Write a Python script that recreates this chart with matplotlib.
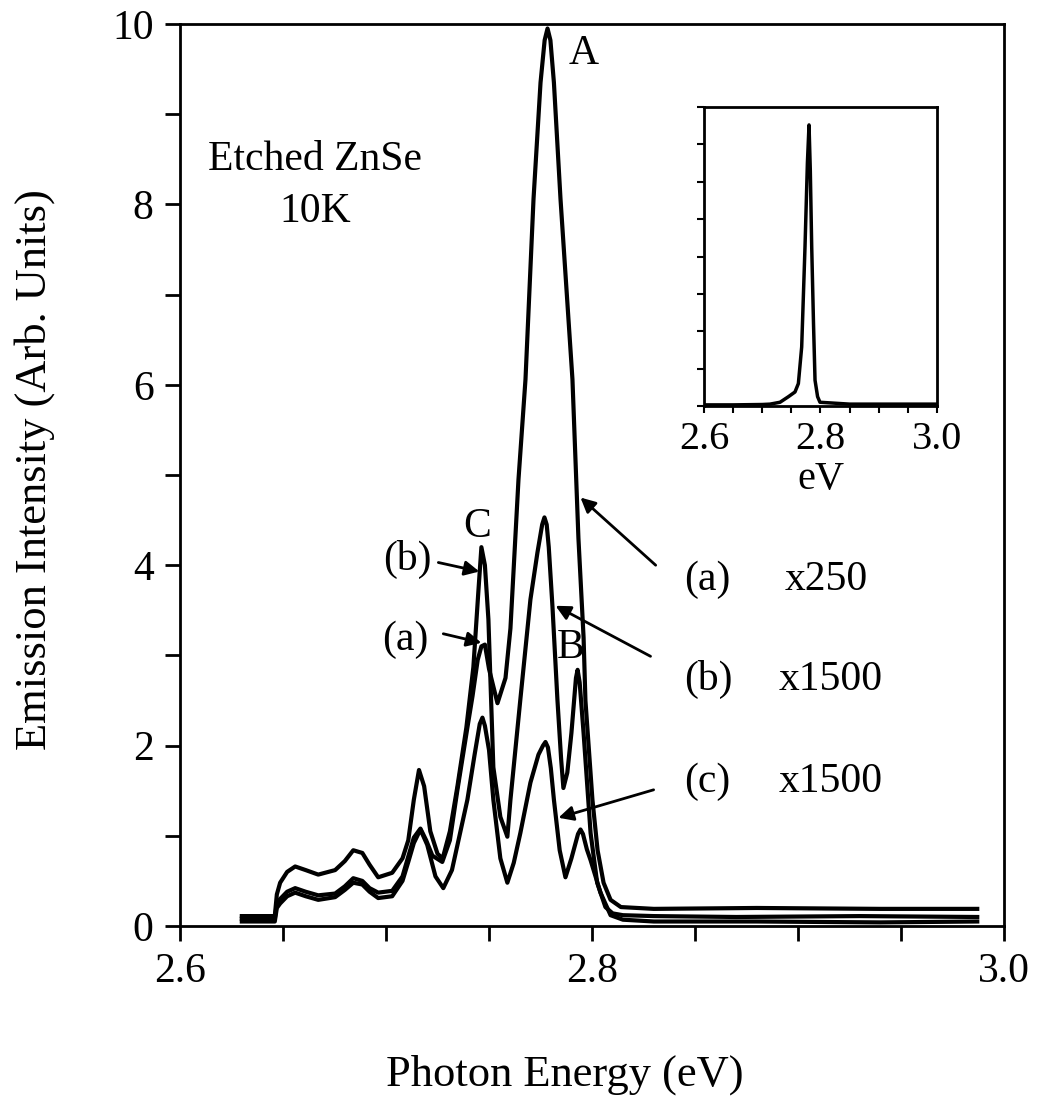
import matplotlib
matplotlib.use("Agg")
import matplotlib.pyplot as plt

plt.rcParams['font.family'] = ['Liberation Serif', 'DejaVu Serif']

# curve (a) x250 - big peak A
energy_a = [2.630, 2.646, 2.647, 2.6486, 2.652, 2.6559, 2.661, 2.6671, 2.6753, 2.680,
            2.6841, 2.6885, 2.692, 2.6962, 2.7030, 2.7080, 2.7108, 2.7135, 2.7167, 2.7195,
            2.7225, 2.7273, 2.731, 2.7346, 2.7395, 2.7420, 2.7445, 2.7463, 2.7480, 2.7500,
            2.7541, 2.7580, 2.7604, 2.7643, 2.7677, 2.7716, 2.7750, 2.7770, 2.7784, 2.7798,
            2.7815, 2.7847, 2.7905, 2.7934, 2.7959, 2.7968, 2.8002, 2.8027, 2.8056, 2.8090,
            2.8140, 2.83, 2.88, 2.94, 2.987]
intens_a = [0.08, 0.08, 0.25, 0.30, 0.38, 0.42, 0.38, 0.34, 0.36, 0.44,
            0.53, 0.50, 0.42, 0.37, 0.39, 0.55, 0.77, 0.98, 1.08, 0.95,
            0.78, 0.71, 0.95, 1.50, 2.20, 2.55, 2.95, 3.10, 3.12, 2.85,
            2.47, 2.75, 3.30, 4.95, 6.06, 8.06, 9.35, 9.82, 9.95, 9.82,
            9.35, 8.06, 6.06, 4.30, 3.20, 2.50, 1.40, 0.84, 0.48, 0.29,
            0.21, 0.19, 0.20, 0.19, 0.19]

# curve (b) x1500 - peaks C and B
energy_b = [2.630, 2.646, 2.647, 2.6486, 2.652, 2.6559, 2.661, 2.6671, 2.6753, 2.680,
            2.6841, 2.6885, 2.692, 2.6962, 2.7030, 2.7080, 2.7108, 2.7135, 2.7160, 2.7185,
            2.7215, 2.7250, 2.7275, 2.731, 2.7346, 2.7390, 2.7424, 2.7448, 2.7463, 2.7480,
            2.7497, 2.7521, 2.7555, 2.7589, 2.7604, 2.7652, 2.7701, 2.7735, 2.7758, 2.7769,
            2.7780, 2.7790, 2.7808, 2.7832, 2.7850, 2.7861, 2.7880, 2.7900, 2.7922, 2.7930,
            2.7940, 2.7959, 2.7993, 2.8025, 2.8065, 2.810, 2.815, 2.83, 2.87, 2.93, 2.987]
intens_b = [0.11, 0.11, 0.35, 0.48, 0.60, 0.66, 0.62, 0.57, 0.62, 0.72,
            0.84, 0.81, 0.68, 0.54, 0.59, 0.75, 0.95, 1.40, 1.73, 1.55,
            1.05, 0.80, 0.75, 1.05, 1.54, 2.20, 2.87, 3.70, 4.20, 4.00,
            3.40, 1.76, 1.21, 0.99, 1.40, 2.51, 3.62, 4.14, 4.45, 4.53,
            4.45, 4.20, 3.54, 2.51, 1.85, 1.53, 1.70, 2.14, 2.75, 2.84,
            2.70, 2.14, 1.03, 0.48, 0.21, 0.14, 0.12, 0.11, 0.10, 0.11, 0.10]

# curve (c) x1500 - lowest
energy_c = [2.630, 2.646, 2.647, 2.6486, 2.652, 2.6559, 2.661, 2.6671, 2.6753, 2.680,
            2.6841, 2.6885, 2.692, 2.6962, 2.7030, 2.7080, 2.7108, 2.7135, 2.7167, 2.7200,
            2.7240, 2.7278, 2.7320, 2.7395, 2.7430, 2.7455, 2.7468, 2.7480, 2.7500, 2.7521,
            2.7555, 2.7589, 2.7620, 2.7652, 2.7701, 2.7740, 2.7762, 2.7774, 2.7786, 2.7800,
            2.7815, 2.7843, 2.7871, 2.7900, 2.7932, 2.7944, 2.7956, 2.7975, 2.7993, 2.8041,
            2.8090, 2.815, 2.83, 2.88, 2.94, 2.987]
intens_c = [0.05, 0.05, 0.20, 0.25, 0.33, 0.37, 0.33, 0.29, 0.32, 0.40,
            0.48, 0.46, 0.38, 0.31, 0.33, 0.50, 0.71, 0.92, 1.07, 0.90,
            0.55, 0.42, 0.62, 1.40, 1.90, 2.24, 2.31, 2.22, 1.95, 1.40,
            0.75, 0.48, 0.70, 1.03, 1.59, 1.90, 2.00, 2.04, 1.98, 1.75,
            1.40, 0.84, 0.54, 0.75, 1.02, 1.07, 1.02, 0.85, 0.73, 0.37,
            0.12, 0.07, 0.05, 0.05, 0.04, 0.05]

# inset: full spectrum at low gain
energy_in = [2.600, 2.650, 2.700, 2.7133, 2.7305, 2.745, 2.7562, 2.7620, 2.7677, 2.7734,
             2.7775, 2.7803, 2.7825, 2.7849, 2.7880, 2.7906, 2.7950, 2.7991, 2.850, 2.900,
             2.950, 3.000]
intens_in = [0.03, 0.03, 0.04, 0.05, 0.10, 0.25, 0.375, 0.6, 1.58, 4.26,
             6.5, 7.52, 6.3, 4.26, 2.2, 0.69, 0.25, 0.10, 0.05, 0.05,
             0.05, 0.05]

x_ticks = [2.6, 2.65, 2.7, 2.75, 2.8, 2.85, 2.9, 2.95, 3.0]
x_labels = ['2.6', '', '', '', '2.8', '', '', '', '3.0']
y_ticks = list(range(0, 11))
y_labels = ['0', '', '2', '', '4', '', '6', '', '8', '', '10']

fig = plt.figure(figsize=(10.37, 10.96), dpi=100)
ax = fig.add_axes([0.1736, 0.1551, 0.7946, 0.8230])

for xs, ys in [(energy_a, intens_a), (energy_b, intens_b), (energy_c, intens_c)]:
    ax.plot(xs, ys, color='black', lw=3.0, solid_joinstyle='round')

ax.set_xlim(2.6, 3.0)
ax.set_ylim(0, 10)
ax.set_xticks(x_ticks)
ax.set_xticklabels(x_labels)
ax.set_yticks(y_ticks)
ax.set_yticklabels(y_labels)
ax.tick_params(direction='out', length=11, width=2, labelsize=30, pad=8)
for sp in ax.spines.values():
    sp.set_linewidth(2)

fig.text(565 / 1037, 1 - 1075 / 1096, 'Photon Energy (eV)', fontsize=32,
         ha='center', va='center')
fig.text(35 / 1037, 1 - 470 / 1096, 'Emission Intensity (Arb. Units)', fontsize=32,
         ha='center', va='center', rotation=90)

# labels inside main plot
ax.text(2.6656, 8.50, 'Etched ZnSe', fontsize=30, ha='center', va='center')
ax.text(2.6656, 7.92, '10K', fontsize=30, ha='center', va='center')
ax.text(2.7959, 9.67, 'A', fontsize=30, ha='center', va='center')
ax.text(2.7443, 4.43, 'C', fontsize=30, ha='center', va='center')
ax.text(2.7896, 3.09, 'B', fontsize=30, ha='center', va='center')

arrow = dict(arrowstyle='-|>', lw=2, color='black', mutation_scale=22,
             shrinkA=0, shrinkB=0)

ax.text(2.7103, 4.06, '(b)', fontsize=30, ha='center', va='center')
ax.annotate('', xy=(2.7453, 3.93), xytext=(2.7254, 4.03), arrowprops=arrow)
ax.text(2.7094, 3.17, '(a)', fontsize=30, ha='center', va='center')
ax.annotate('', xy=(2.7463, 3.14), xytext=(2.7278, 3.24), arrowprops=arrow)

ax.text(2.8445, 3.84, '(a)', fontsize=30, ha='left', va='center')
ax.text(2.8935, 3.84, 'x250', fontsize=30, ha='left', va='center')
ax.annotate('', xy=(2.7944, 4.75), xytext=(2.8309, 4.0), arrowprops=arrow)

ax.text(2.8445, 2.73, '(b)', fontsize=30, ha='left', va='center')
ax.text(2.8906, 2.73, 'x1500', fontsize=30, ha='left', va='center')
ax.annotate('', xy=(2.7823, 3.55), xytext=(2.8284, 2.99), arrowprops=arrow)

ax.text(2.8445, 1.60, '(c)', fontsize=30, ha='left', va='center')
ax.text(2.8906, 1.60, 'x1500', fontsize=30, ha='left', va='center')
ax.annotate('', xy=(2.7837, 1.20), xytext=(2.8299, 1.51), arrowprops=arrow)

# inset
axin = fig.add_axes([704 / 1037, 1 - 406 / 1096, 233 / 1037, 299 / 1096])
axin.plot(energy_in, intens_in, color='black', lw=2.5, solid_joinstyle='round')
axin.set_xlim(2.6, 3.0)
axin.set_ylim(0, 8)
axin.set_xticks(x_ticks)
axin.set_xticklabels(x_labels)
axin.set_yticks(list(range(0, 9)))
axin.set_yticklabels([])
axin.tick_params(direction='out', length=5, width=1.5, labelsize=29, pad=6)
axin.set_xlabel('eV', fontsize=29, labelpad=2)
for sp in axin.spines.values():
    sp.set_linewidth(2)

fig.savefig('out.png', dpi=100)
